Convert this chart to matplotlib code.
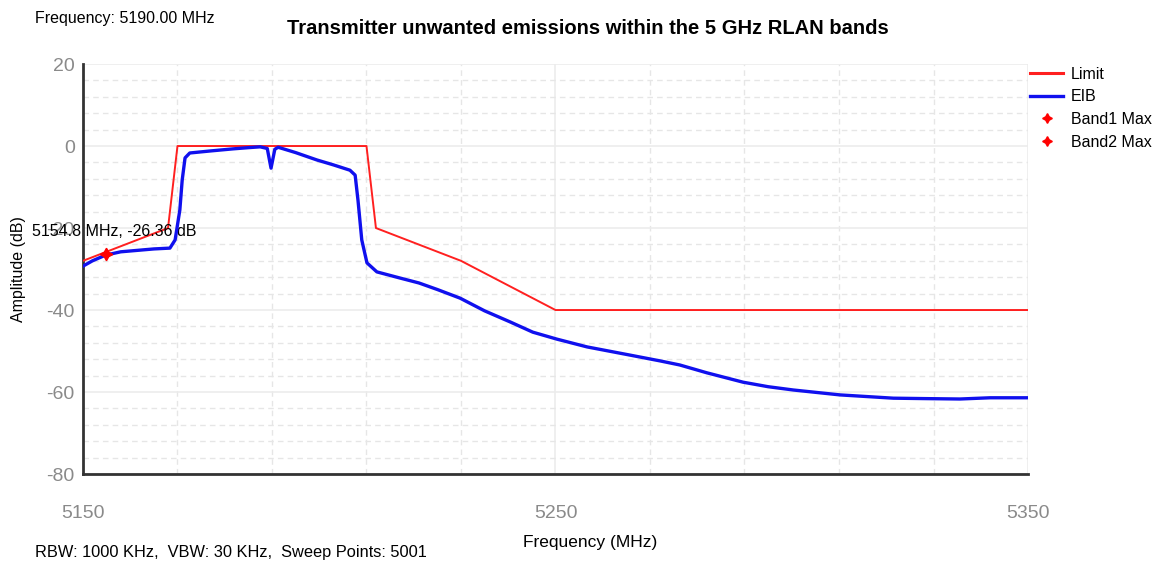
import matplotlib.pyplot as plt
from matplotlib.lines import Line2D

plt.rcParams["font.family"] = ["Liberation Sans", "DejaVu Sans"]
plt.rcParams["axes.unicode_minus"] = False

# Limit mask (MHz, dB)
limit_freq = [5150, 5168, 5170, 5210, 5212, 5230, 5250, 5350]
limit_amp = [-28, -20, 0, 0, -20, -28, -40, -40]

# Measured EIB trace (MHz, dB)
eib_freq = [5150.0, 5152.0, 5154.8, 5158.0, 5162.0, 5165.0, 5168.4, 5169.5,
            5170.5, 5171.0, 5171.6, 5172.6, 5177.0, 5181.7, 5185.0, 5187.5,
            5189.0, 5189.8, 5190.6, 5191.3, 5195.0, 5199.5, 5203.0, 5206.5,
            5207.6, 5208.2, 5209.0, 5210.1, 5212.2, 5217.1, 5221.1, 5225.0,
            5229.8, 5235.0, 5240.4, 5245.2, 5250.3, 5256.7, 5265.8, 5272.1,
            5276.3, 5282.0, 5289.7, 5295.0, 5300.3, 5310.2, 5321.5, 5328.0,
            5335.6, 5342.0, 5350.0]
eib_amp = [-29.3, -28.0, -26.6, -25.8, -25.4, -25.1, -24.9, -22.9,
           -15.6, -8.3, -2.9, -1.7, -1.2, -0.7, -0.4, -0.2,
           -0.6, -5.4, -0.8, -0.3, -1.6, -3.4, -4.6, -5.9,
           -7.1, -13.2, -22.9, -28.5, -30.7, -32.2, -33.4, -35.0,
           -37.1, -40.2, -42.9, -45.4, -47.1, -49.0, -51.0, -52.4,
           -53.4, -55.3, -57.6, -58.7, -59.5, -60.7, -61.5, -61.6,
           -61.7, -61.4, -61.4]

# Peak markers
band1_freq, band1_amp = 5154.8, -26.36

x_ticks = [5150, 5250, 5350]
x_minor = list(range(5150, 5351, 20))
y_ticks = [-80, -60, -40, -20, 0, 20]
y_minor = list(range(-80, 21, 4))

fig = plt.figure(figsize=(11.67, 5.65), dpi=100)
ax = fig.add_axes([0.0711, 0.161, 0.8098, 0.7257])

ax.plot(limit_freq, limit_amp, color="#ff2020", linewidth=1.4, label="Limit", zorder=3)
ax.plot(eib_freq, eib_amp, color="#1010ee", linewidth=2.4, label="EIB", zorder=4)
star = (4, 1, 0)
ax.plot([band1_freq], [band1_amp], linestyle="none", marker=star, markersize=9,
        color="red", zorder=5)

ax.set_xlim(5150, 5350)
ax.set_ylim(-80, 20)
ax.set_xticks(x_ticks)
ax.set_xticks(x_minor, minor=True)
ax.set_yticks(y_ticks)
ax.set_yticks(y_minor, minor=True)

ax.grid(which="major", color="#ececec", linewidth=1.2, linestyle="-")
ax.grid(which="minor", color="#e6e6e6", linewidth=1.0, linestyle=(0, (4, 3)))
ax.set_axisbelow(True)

for side in ("top", "right"):
    ax.spines[side].set_visible(False)
for side in ("left", "bottom"):
    ax.spines[side].set_color("#333333")
    ax.spines[side].set_linewidth(2)

ax.tick_params(which="both", length=0, colors="#8a8a8a", labelsize=14)
ax.tick_params(axis="x", pad=22)
ax.tick_params(axis="y", pad=6)

ax.set_xlabel("Frequency (MHz)", fontsize=12.5)
ax.xaxis.set_label_coords((590 - 83) / 945, -(535 - 474) / 410)
ax.set_ylabel("Amplitude (dB)", fontsize=11.5)
ax.yaxis.set_label_coords(-(83 - 26) / 945, 0.5)

ax.annotate(f"{band1_freq:.1f} MHz, {band1_amp:.2f} dB",
            xy=(band1_freq, band1_amp), xytext=(32, 565 - 232),
            textcoords="figure pixels", fontsize=11.5, va="center", ha="left")

handles = [
    Line2D([], [], color="#ff2020", linewidth=2.2),
    Line2D([], [], color="#1010ee", linewidth=2.4),
    Line2D([], [], linestyle="none", marker=star, markersize=7, color="red"),
    Line2D([], [], linestyle="none", marker=star, markersize=7, color="red"),
]
labels = ["Limit", "EIB", "Band1 Max", "Band2 Max"]
fig.legend(handles, labels, loc="upper left", bbox_to_anchor=(0.8825, 0.882),
           frameon=False, fontsize=11.5, handlelength=2.1, handletextpad=0.45,
           labelspacing=0.48, borderaxespad=0, borderpad=0)

fig.text(588 / 1167, 1 - 29 / 565, "Transmitter unwanted emissions within the 5 GHz RLAN bands",
         ha="center", va="center", fontsize=14.5, fontweight="bold")
fig.text(35 / 1167, 1 - 18 / 565, "Frequency: 5190.00 MHz", ha="left", va="center", fontsize=11.5)
fig.text(35 / 1167, 1 - 552 / 565, "RBW: 1000 KHz,  VBW: 30 KHz,  Sweep Points: 5001",
         ha="left", va="center", fontsize=11.8)

fig.savefig("out.png", dpi=100, facecolor="white")
